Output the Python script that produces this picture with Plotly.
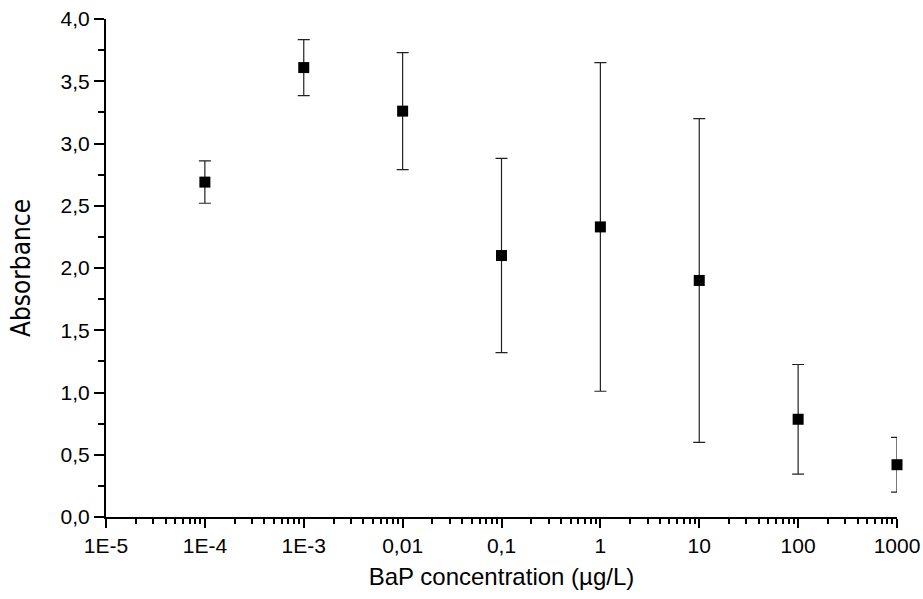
import plotly.graph_objects as go

# Data
concentration = [1e-4, 1e-3, 1e-2, 1e-1, 1, 10, 100, 1000]
absorbance = [2.69, 3.61, 3.26, 2.10, 2.33, 1.90, 0.785, 0.42]
abs_error = [0.17, 0.225, 0.47, 0.78, 1.32, 1.30, 0.44, 0.22]

x_tickvals = [1e-5, 1e-4, 1e-3, 1e-2, 1e-1, 1, 10, 100, 1000]
x_ticktext = ["1E-5", "1E-4", "1E-3", "0,01", "0,1", "1", "10", "100", "1000"]

fig = go.Figure()
fig.add_trace(go.Scatter(
    x=concentration,
    y=absorbance,
    mode="markers",
    marker=dict(symbol="square", size=11, color="black"),
    error_y=dict(type="data", array=abs_error, visible=True,
                 color="#222222", thickness=1.2, width=6),
    showlegend=False,
    cliponaxis=False,
))

font_main = "Liberation Sans, Arial, sans-serif"

fig.update_layout(
    width=923, height=599,
    margin=dict(l=106, r=26, t=19, b=82),
    paper_bgcolor="white", plot_bgcolor="white",
    separators=",.",
    font=dict(family=font_main, color="black"),
    xaxis=dict(
        type="log",
        range=[-5, 3],
        automargin=False,
        tickvals=x_tickvals,
        ticktext=x_ticktext,
        ticks="outside", ticklen=9, tickwidth=2, tickcolor="black",
        showline=True, linecolor="black", linewidth=2,
        showgrid=False, zeroline=False,
        tickfont=dict(size=21, family=font_main),
        minor=dict(ticks="outside", ticklen=5, tickwidth=2, tickcolor="black",
                   dtick="D1", showgrid=False),
        title=dict(text="BaP concentration (µg/L)",
                   font=dict(size=24, family=font_main), standoff=12),
    ),
    yaxis=dict(
        range=[0, 4],
        automargin=False,
        tickvals=[0, 0.5, 1.0, 1.5, 2.0, 2.5, 3.0, 3.5, 4.0],
        tickformat=".1f",
        ticks="outside", ticklen=10, tickwidth=2, tickcolor="black",
        showline=True, linecolor="black", linewidth=2,
        showgrid=False, zeroline=False,
        tickfont=dict(size=21, family=font_main),
        minor=dict(ticks="outside", ticklen=6, tickwidth=2, tickcolor="black",
                   dtick=0.25, tick0=0, showgrid=False),
        title=dict(text="Absorbance",
                   font=dict(size=26, family="Liberation Sans Narrow, Arial Narrow, DejaVu Sans Condensed, sans-serif"),
                   standoff=22),
    ),
)

fig.write_html("out.html",
               config={"displayModeBar": False},
               post_script="document.body.style.margin='0';document.body.style.overflow='hidden';")
